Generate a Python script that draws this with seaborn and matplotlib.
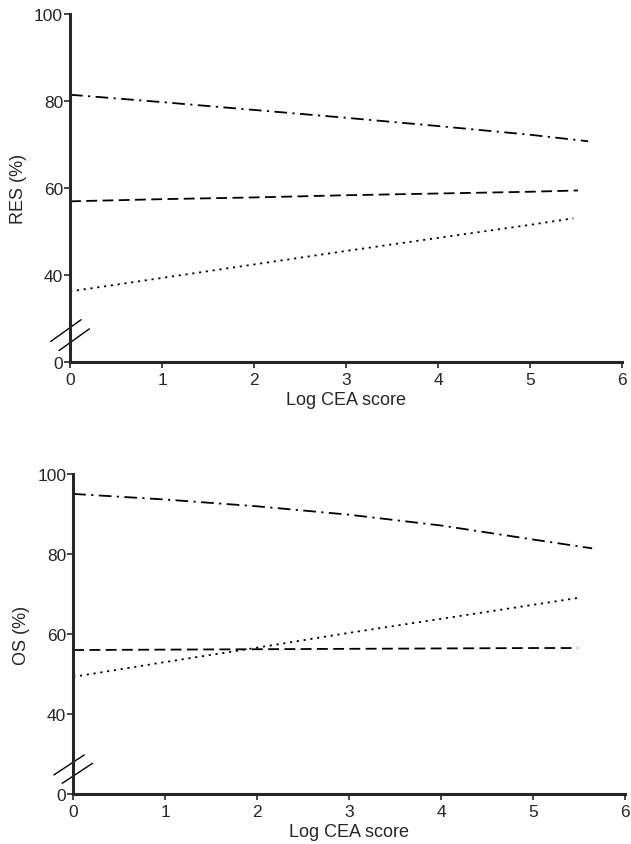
import pandas as pd
import seaborn as sns
import matplotlib.pyplot as plt

sns.set_style("ticks")
plt.rcParams['font.family'] = ['Liberation Sans', 'DejaVu Sans']

# y axis is broken: the "0" tick is drawn where 20 would be
Y_TICKS = [20, 40, 60, 80, 100]
Y_TICK_LABELS = ["0", "40", "60", "80", "100"]
X_TICKS = [0, 1, 2, 3, 4, 5, 6]

# RES (%) vs log CEA score
res_dashdot_x = [0, 1, 2, 3, 4, 5, 5.63]
res_dashdot_y = [81.5, 79.8, 78.0, 76.2, 74.3, 72.3, 70.8]
res_dashed_x = [0, 1, 2, 3, 4, 5, 5.52]
res_dashed_y = [57.0, 57.5, 57.9, 58.4, 58.8, 59.2, 59.5]
res_dotted_x = [0, 1, 2, 3, 4, 5, 5.47]
res_dotted_y = [36.3, 39.4, 42.5, 45.6, 48.6, 51.6, 53.1]

# OS (%) vs log CEA score
os_dashdot_x = [0, 1, 2, 3, 4, 5, 5.64]
os_dashdot_y = [95.0, 93.6, 91.9, 89.8, 87.1, 83.6, 81.4]
os_dashed_x = [0, 1, 2, 3, 4, 5, 5.48]
os_dashed_y = [56.0, 56.1, 56.2, 56.3, 56.4, 56.5, 56.5]
os_dotted_x = [0, 1, 2, 3, 4, 5, 5.48]
os_dotted_y = [49.3, 53.0, 56.6, 60.3, 63.8, 67.3, 69.0]

STYLES = {
    "dashdot": (0, (7, 3, 1.2, 3)),
    "dashed": (0, (6, 3)),
    "dotted": (0, (1.2, 2.6)),
}


def _draw_panel(ax, series, ylabel):
    for name, xs, ys in series:
        df = pd.DataFrame({"x": xs, "y": ys})
        sns.lineplot(data=df, x="x", y="y", ax=ax, color="black",
                     linewidth=1.3, linestyle=STYLES[name], legend=False)
    ax.set_xlim(0, 6)
    ax.set_ylim(20, 100)
    ax.set_xticks(X_TICKS)
    ax.set_yticks(Y_TICKS)
    ax.set_yticklabels(Y_TICK_LABELS)
    ax.set_xlabel("Log CEA score", fontsize=13, labelpad=3)
    ax.set_ylabel(ylabel, fontsize=13, labelpad=5)
    ax.tick_params(labelsize=12.5, length=4, width=1.2, direction="out")
    ax.tick_params(axis="x", pad=3)
    ax.tick_params(axis="y", pad=1)
    sns.despine(ax=ax)
    for s in ["left", "bottom"]:
        ax.spines[s].set_linewidth(2.2)
    # break marks on the y axis
    ax.plot([-0.21, 0.12], [24.8, 29.8], color="black", lw=1.0, clip_on=False)
    ax.plot([-0.12, 0.21], [22.7, 27.7], color="black", lw=1.0, clip_on=False)


fig = plt.figure(figsize=(6.31, 8.45), dpi=100)
ax1 = fig.add_axes([0.111, 0.570, 0.875, 0.412])
ax2 = fig.add_axes([0.116, 0.059, 0.875, 0.379])

_draw_panel(ax1, [("dashdot", res_dashdot_x, res_dashdot_y),
                  ("dashed", res_dashed_x, res_dashed_y),
                  ("dotted", res_dotted_x, res_dotted_y)], "RES (%)")
_draw_panel(ax2, [("dashdot", os_dashdot_x, os_dashdot_y),
                  ("dashed", os_dashed_x, os_dashed_y),
                  ("dotted", os_dotted_x, os_dotted_y)], "OS (%)")

fig.savefig("out.png", dpi=100)
